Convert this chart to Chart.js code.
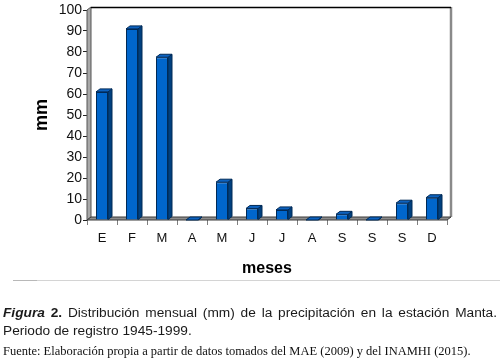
<!DOCTYPE html>
<html><head><meta charset="utf-8">
<script src="https://cdn.jsdelivr.net/npm/chart.js@4/dist/chart.umd.min.js"></script>
<style>
html,body{margin:0;padding:0;background:#fff;}
#wrap{position:relative;width:500px;height:358px;overflow:hidden;background:#fff;}
#c{position:absolute;left:0;top:0;}
.rule{position:absolute;left:13px;top:280px;width:487px;height:1px;background:#d4d4d4;}
.rule2{position:absolute;left:13px;top:280px;width:24px;height:1px;background:#b8b8b8;}
.cap{position:absolute;left:3px;width:494px;font-family:"Liberation Sans",Arial,sans-serif;font-size:13.7px;line-height:16px;color:#1a1a1a;white-space:nowrap;}
.l1{top:305px;text-align:justify;text-align-last:justify;}
.l2{top:323px;}
.src{position:absolute;left:3px;top:344px;font-family:"Liberation Serif","Times New Roman",serif;font-size:12.5px;line-height:14px;color:#111;white-space:nowrap;}
</style></head>
<body>
<div id="wrap">
<canvas id="c" width="500" height="358"></canvas>
<div class="rule"></div><div class="rule2"></div>
<div class="cap l1"><b><i>Figura</i> 2.</b> Distribución mensual (mm) de la precipitación en la estación Manta.</div>
<div class="cap l2">Periodo de registro 1945-1999.</div>
<div class="src">Fuente: Elaboración propia a partir de datos tomados del MAE (2009) y del INAMHI (2015).</div>
</div>
<script>
const categories = ['E','F','M','A','M','J','J','A','S','S','S','D'];
const precipitation = [61, 91, 77.5, 0, 18, 5.5, 4.8, 0, 2.7, 0, 8, 10.6];
const yMin = 0, yMax = 100, yStep = 10;
const yTitle = 'mm';
const xTitle = 'meses';

const DX = 4, DY = -3;
const threeD = {
  id: 'threeD',
  beforeDatasetsDraw(chart) {
    const {ctx, chartArea: a, scales: {y}} = chart;
    const y0 = y.getPixelForValue(yMin), yT = y.getPixelForValue(yMax);
    ctx.save();
    ctx.lineWidth = 1;
    // left wall
    ctx.beginPath();
    ctx.moveTo(a.left, y0); ctx.lineTo(a.left, yT);
    ctx.lineTo(a.left + DX, yT + DY); ctx.lineTo(a.left + DX, y0 + DY);
    ctx.closePath();
    ctx.fillStyle = '#a8a8a8'; ctx.fill();
    ctx.strokeStyle = '#555'; ctx.stroke();
    // right wall edge
    ctx.beginPath();
    ctx.moveTo(a.right + DX, y0 + DY); ctx.lineTo(a.right + DX, yT + DY);
    ctx.strokeStyle = '#8a8a8a'; ctx.lineWidth = 2.5; ctx.stroke();
    // top edge of back wall
    ctx.beginPath();
    ctx.moveTo(a.left + DX, yT + DY + 0.5); ctx.lineTo(a.right + DX, yT + DY + 0.5);
    ctx.strokeStyle = '#000'; ctx.lineWidth = 1.5; ctx.stroke();
    // floor
    ctx.beginPath();
    ctx.moveTo(a.left, y0); ctx.lineTo(a.left + DX, y0 + DY);
    ctx.lineTo(a.right + DX, y0 + DY); ctx.lineTo(a.right, y0);
    ctx.closePath();
    ctx.fillStyle = '#8c8c8c'; ctx.fill();
    ctx.strokeStyle = '#3a3a3a'; ctx.lineWidth = 1; ctx.stroke();
    ctx.restore();
  },
  afterDatasetsDraw(chart) {
    const {ctx} = chart;
    const meta = chart.getDatasetMeta(0);
    ctx.save();
    ctx.lineWidth = 1;
    ctx.strokeStyle = '#002a57';
    meta.data.forEach(bar => {
      const {x, y, base, width} = bar.getProps(['x', 'y', 'base', 'width'], true);
      const l = x - width / 2, r = x + width / 2;
      // side
      ctx.beginPath();
      ctx.moveTo(r, y); ctx.lineTo(r + DX, y + DY);
      ctx.lineTo(r + DX, base + DY); ctx.lineTo(r, base);
      ctx.closePath();
      ctx.fillStyle = '#00407f'; ctx.fill(); ctx.stroke();
      // top
      ctx.beginPath();
      ctx.moveTo(l, y); ctx.lineTo(l + DX, y + DY);
      ctx.lineTo(r + DX, y + DY); ctx.lineTo(r, y);
      ctx.closePath();
      ctx.fillStyle = '#0d62bf'; ctx.fill(); ctx.stroke();
    });
    ctx.restore();
  }
};

new Chart(document.getElementById('c'), {
  type: 'bar',
  data: {
    labels: categories,
    datasets: [{
      data: precipitation,
      backgroundColor: '#0066cc',
      borderColor: '#002a57',
      borderWidth: 1,
      barPercentage: 0.4,
      categoryPercentage: 1.0
    }]
  },
  options: {
    responsive: false,
    animation: false,
    devicePixelRatio: 1,
    layout: {padding: {left: 0, right: 53, top: 10, bottom: 78}},
    plugins: {legend: {display: false}, tooltip: {enabled: false}},
    scales: {
      x: {
        grid: {display: true, drawOnChartArea: false, tickLength: 5, color: '#808080', lineWidth: 1, offset: true},
        border: {display: false},
        ticks: {color: '#111', font: {family: '"Liberation Sans", Arial, sans-serif', size: 13}, padding: 6, maxRotation: 0, autoSkip: false},
        title: {display: true, text: xTitle, color: '#000', font: {family: '"Liberation Sans", Arial, sans-serif', size: 16, weight: 'bold'}, padding: {top: 0, bottom: 2}},
        afterFit(s) { s.height = 60; }
      },
      y: {
        min: yMin, max: yMax,
        grid: {display: true, drawOnChartArea: false, tickLength: 4, color: '#222', lineWidth: 1},
        border: {display: false},
        ticks: {stepSize: yStep, color: '#111', font: {family: '"Liberation Sans", Arial, sans-serif', size: 14}, padding: 1},
        title: {display: true, text: yTitle, color: '#000', font: {family: '"Liberation Sans", Arial, sans-serif', size: 18, weight: 'bold'}, padding: {top: 31, bottom: 0}},
        afterFit(s) { s.width = 87; }
      }
    }
  },
  plugins: [threeD]
});
</script>
</body></html>
